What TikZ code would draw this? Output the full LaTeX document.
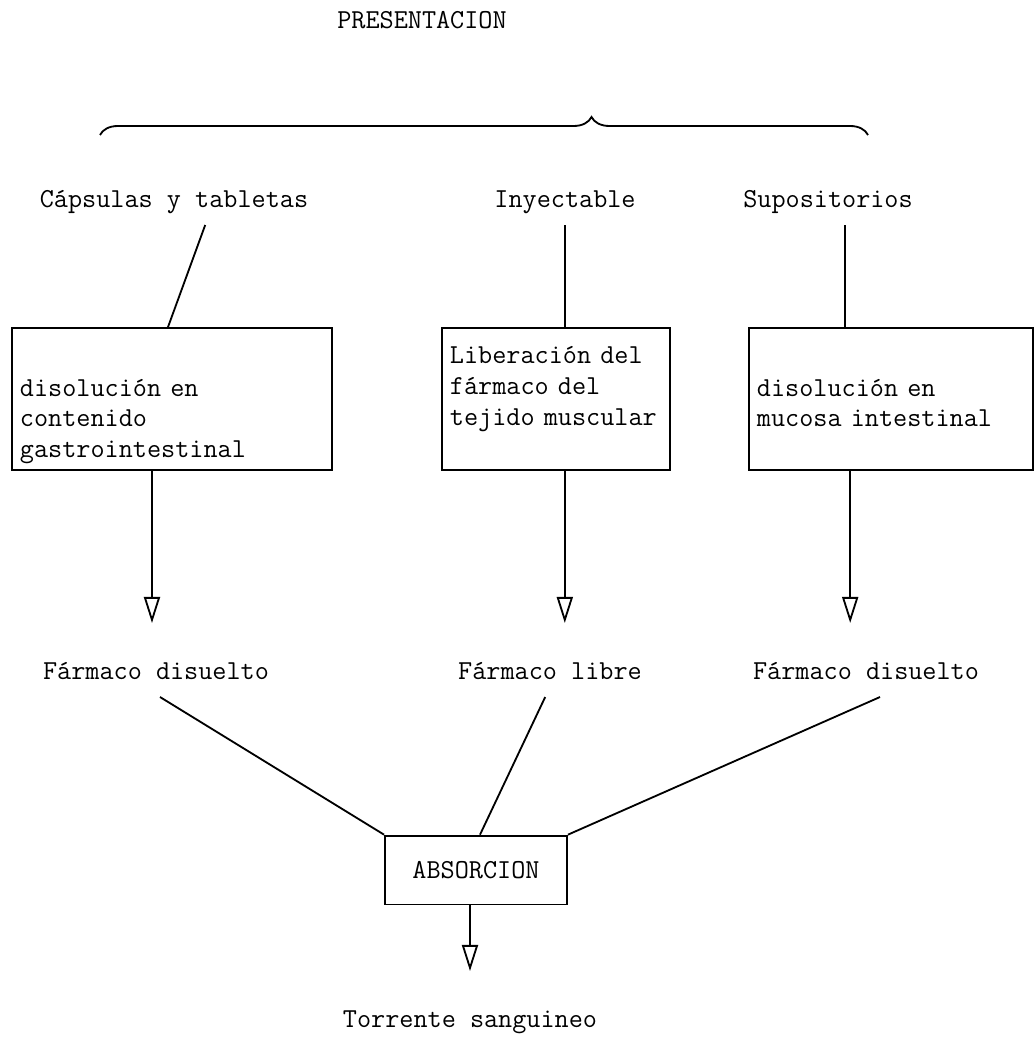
\documentclass[tikz,border=0pt]{standalone}
\usepackage{fontspec}
\usepackage{tikz}
\usetikzlibrary{arrows.meta,positioning,decorations.pathreplacing}
\newcommand{\maquina}{\ttfamily\fontsize{19.5}{22}\selectfont}
\tikzstyle{txt}=[font=\maquina,inner sep=0pt,outer sep=0.3cm,text height=0.5cm,text depth=0.15cm]
\tikzstyle{caja}=[draw,font=\maquina,align=left,inner sep=0.2cm]
\tikzstyle{flecha}=[-{Triangle[open,length=0.65cm,width=0.4cm]},shorten >=0.6cm]
\begin{document}
\begin{tikzpicture}[x=0.025cm,y=-0.025cm,line width=1.3pt]
\useasboundingbox (0,0) rectangle (1036,1051);
\draw (422, 22) node [txt] (pres) {PRESENTACION};
\draw[decorate,decoration={brace,amplitude=0.45cm,aspect=0.64}] (100,135) -- (868,135);
\draw (174, 200) node [txt] (caps) {Cápsulas y tabletas};
\draw (565, 200) node [txt] (iny) {Inyectable};
\draw (828, 200) node [txt] (sup) {Supositorios};
\draw (172, 399) node [caja,minimum width=8cm,text width=7.6cm,text height=1.5cm,text depth=1.65cm] (cgas) {disolución en\\contenido\\gastrointestinal};
\draw (556, 399) node [caja,minimum width=5.6cm,text width=5.3cm,text height=0.7cm,text depth=2.45cm] (cmus) {Liberación del\\fármaco del\\tejido muscular};
\draw (891, 399) node [caja,minimum width=7.1cm,text width=6.7cm,text height=1.5cm,text depth=1.65cm] (cint) {disolución en\\mucosa intestinal};
\draw (156, 672) node [txt] (fdis1) {Fármaco disuelto};
\draw (550, 672) node [txt] (flib) {Fármaco libre};
\draw (866, 672) node [txt] (fdis2) {Fármaco disuelto};
\draw (476, 870) node [caja,minimum width=4.55cm,minimum height=1.72cm,align=center] (abs) {ABSORCION};
\draw (470, 1020) node [txt] (torr) {Torrente sanguineo};
\draw ([xshift=0.78cm]caps.south) -- ([xshift=-0.1cm]cgas.north);
\draw (iny.south) -- (iny.south |- cmus.north);
\draw ([xshift=0.42cm]sup.south) -- ([xshift=0.42cm]sup.south |- cint.north);
\draw[flecha] ([xshift=-0.5cm]cgas.south) -- ([xshift=-0.5cm]cgas.south |- fdis1.north);
\draw[flecha] ([xshift=0.22cm]cmus.south) -- ([xshift=0.22cm]cmus.south |- flib.north);
\draw[flecha] ([xshift=-1.02cm]cint.south) -- ([xshift=-1.02cm]cint.south |- fdis2.north);
\draw ([xshift=0.1cm]fdis1.south) -- (abs.north west);
\draw ([xshift=-0.12cm]flib.south) -- ([xshift=0.1cm]abs.north);
\draw ([xshift=0.35cm]fdis2.south) -- (abs.north east);
\draw[flecha] ([xshift=-0.15cm]abs.south) -- ([xshift=-0.15cm]abs.south |- torr.north);
\end{tikzpicture}
\end{document}
